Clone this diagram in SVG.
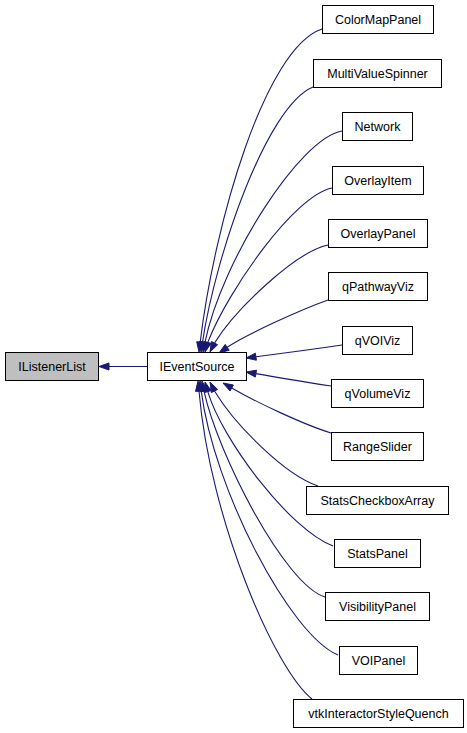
<svg xmlns="http://www.w3.org/2000/svg" width="467" height="733" viewBox="0 0 467 733">
<style>
.n rect{fill:#ffffff;stroke:#000000;stroke-width:1}
.n.g rect{fill:#bfbfbf}
.n text{font-family:"Liberation Sans",Arial,sans-serif;font-size:12.5px;text-anchor:middle;fill:#000000}
.e path{fill:none;stroke:#191970;stroke-width:1.1}
.e polygon{fill:#191970;stroke:#191970;stroke-width:1}
</style>
<rect width="467" height="733" fill="#ffffff"/>
<g id="edges" class="e">
<path d="M147,366.5 L109,366.5"/><polygon points="99,366.5 109,363 109,370"/>
<path d="M322,29 C265,48 214.6,223 200.2,342.1"/><polygon points="199,352 196.7,341.7 203.7,342.5"/>
<path d="M313,87 C267,106 216,253 202.5,342.1"/><polygon points="201,352 199,341.6 206,342.6"/>
<path d="M342,131 C300,138 222,260 205,342.2"/><polygon points="203,352 201.6,341.5 208.4,342.9"/>
<path d="M332,188 C295,195 228,290 207.8,342.4"/><polygon points="205,352 204.4,341.4 211.2,343.4"/>
<path d="M328,245 C295,252 235,310 214.5,343.1"/><polygon points="210,352 211.4,341.5 217.6,344.7"/>
<path d="M328,300 C300,310 245,335 227.2,347.3"/><polygon points="219,353 225.2,344.4 229.2,350.2"/>
<path d="M342,345 C315,349 285,353 255.9,356.7"/><polygon points="246,358 255.4,353.2 256.4,360.2"/>
<path d="M331,386 C305,382 280,378 255.9,373.6"/><polygon points="246,372 256.5,370.2 255.3,377.1"/>
<path d="M331,433 C305,425 257.7,403 231.7,388"/><polygon points="223,383 233.4,385 230,391"/>
<path d="M318,486 C285,475 235,425 214.5,391"/><polygon points="210,382 217.6,389.4 211.4,392.6"/>
<path d="M333,546 C290,530 222,440 207.8,391.6"/><polygon points="205,382 211.2,390.6 204.4,392.6"/>
<path d="M325,597 C285,585 218,455 204,391.2"/><polygon points="202,381 207.4,390.5 200.6,391.9"/>
<path d="M338,655 C290,635 214,490 201.2,390.9"/><polygon points="200,381 204.7,390.5 197.7,391.3"/>
<path d="M312,699 C275,670 210,520 199,391"/><polygon points="198,381 202.5,390.6 195.5,391.4"/>
</g>
<g id="IListenerList" class="n g"><rect x="5.5" y="352.5" width="93" height="28"/><text x="52" y="371">IListenerList</text></g>
<g id="IEventSource" class="n"><rect x="147.5" y="352.5" width="99" height="28"/><text x="197" y="371">IEventSource</text></g>
<g id="ColorMapPanel" class="n"><rect x="322.5" y="5.5" width="111" height="28"/><text x="378" y="24">ColorMapPanel</text></g>
<g id="MultiValueSpinner" class="n"><rect x="313.5" y="59.5" width="128" height="28"/><text x="377.5" y="78">MultiValueSpinner</text></g>
<g id="Network" class="n"><rect x="342.5" y="112.5" width="70" height="28"/><text x="377.5" y="131">Network</text></g>
<g id="OverlayItem" class="n"><rect x="332.5" y="166.5" width="91" height="28"/><text x="378" y="185">OverlayItem</text></g>
<g id="OverlayPanel" class="n"><rect x="328.5" y="219.5" width="99" height="28"/><text x="378" y="238">OverlayPanel</text></g>
<g id="qPathwayViz" class="n"><rect x="328.5" y="272.5" width="99" height="28"/><text x="378" y="291">qPathwayViz</text></g>
<g id="qVOIViz" class="n"><rect x="342.5" y="326.5" width="70" height="28"/><text x="377.5" y="345">qVOIViz</text></g>
<g id="qVolumeViz" class="n"><rect x="331.5" y="379.5" width="92" height="28"/><text x="377.5" y="398">qVolumeViz</text></g>
<g id="RangeSlider" class="n"><rect x="331.5" y="432.5" width="92" height="28"/><text x="377.5" y="451">RangeSlider</text></g>
<g id="StatsCheckboxArray" class="n"><rect x="306.5" y="486.5" width="142" height="28"/><text x="377.5" y="505">StatsCheckboxArray</text></g>
<g id="StatsPanel" class="n"><rect x="334.5" y="539.5" width="86" height="28"/><text x="377.5" y="558">StatsPanel</text></g>
<g id="VisibilityPanel" class="n"><rect x="325.5" y="592.5" width="104" height="28"/><text x="377.5" y="611">VisibilityPanel</text></g>
<g id="VOIPanel" class="n"><rect x="339.5" y="646.5" width="78" height="28"/><text x="378.5" y="665">VOIPanel</text></g>
<g id="vtkInteractorStyleQuench" class="n"><rect x="293.5" y="699.5" width="170" height="28"/><text x="378.5" y="718">vtkInteractorStyleQuench</text></g>
</svg>
